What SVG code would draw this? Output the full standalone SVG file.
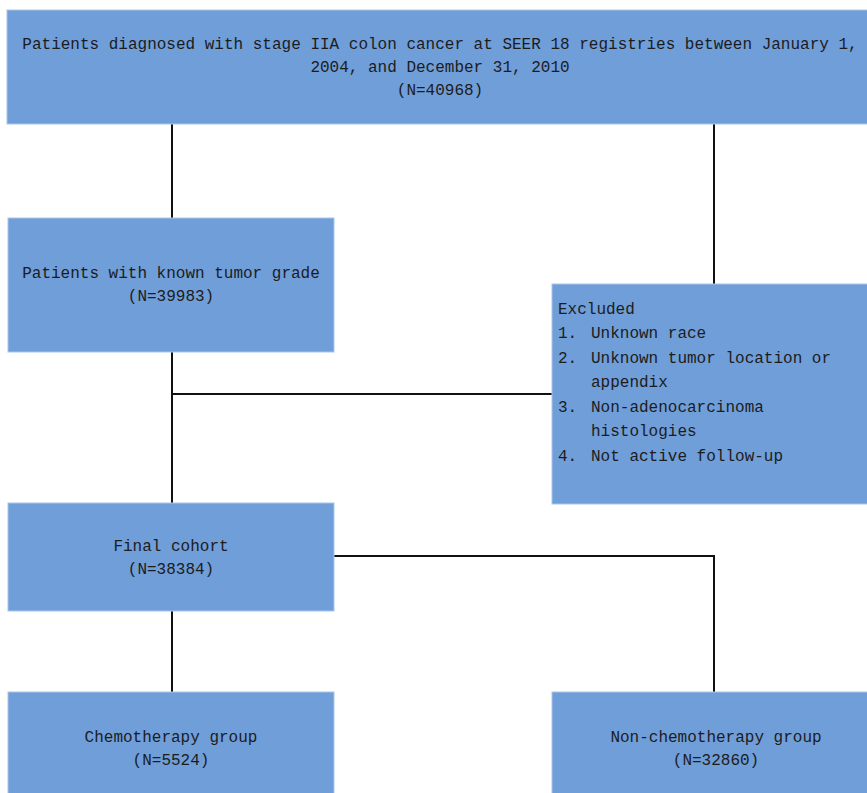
<svg xmlns="http://www.w3.org/2000/svg" width="867" height="793" viewBox="0 0 867 793">
<style>
.box{fill:#709ed9;stroke:#a9c5ec;stroke-width:1}
.t{font-family:"Liberation Mono","DejaVu Sans Mono",monospace;font-size:16px;fill:#1c1c1c}
.c{text-anchor:middle}
.ln{stroke:#111;stroke-width:2;fill:none}
</style>
<rect width="867" height="793" fill="#ffffff"/>
<g id="connectors">
<line class="ln" x1="172" y1="124" x2="172" y2="218"/>
<line class="ln" x1="714" y1="124" x2="714" y2="284"/>
<line class="ln" x1="172" y1="352" x2="172" y2="503"/>
<line class="ln" x1="172" y1="394" x2="552" y2="394"/>
<polyline class="ln" points="334,556 714,556 714,692"/>
<line class="ln" x1="172" y1="611" x2="172" y2="692"/>
</g>
<g id="n_all">
<rect class="box" x="7" y="10" width="865" height="114"/>
<text class="t c" x="440" y="49">Patients diagnosed with stage IIA colon cancer at SEER 18 registries between January 1,</text>
<text class="t c" x="440" y="72">2004, and December 31, 2010</text>
<text class="t c" x="440" y="95">(N=40968)</text>
</g>
<g id="n_grade">
<rect class="box" x="8" y="218" width="326" height="134"/>
<text class="t c" x="171" y="278">Patients with known tumor grade</text>
<text class="t c" x="171" y="301">(N=39983)</text>
</g>
<g id="n_excluded">
<rect class="box" x="552" y="284" width="320" height="220"/>
<text class="t" x="558" y="314">Excluded</text>
<text class="t" x="558" y="338">1.</text><text class="t" x="591" y="338">Unknown race</text>
<text class="t" x="558" y="363">2.</text><text class="t" x="591" y="363">Unknown tumor location or</text>
<text class="t" x="591" y="387">appendix</text>
<text class="t" x="558" y="412">3.</text><text class="t" x="591" y="412">Non-adenocarcinoma</text>
<text class="t" x="591" y="436">histologies</text>
<text class="t" x="558" y="461">4.</text><text class="t" x="591" y="461">Not active follow-up</text>
</g>
<g id="n_final">
<rect class="box" x="8" y="503" width="326" height="108"/>
<text class="t c" x="171" y="551">Final cohort</text>
<text class="t c" x="171" y="574">(N=38384)</text>
</g>
<g id="n_chemo">
<rect class="box" x="8" y="692" width="326" height="110"/>
<text class="t c" x="171" y="742">Chemotherapy group</text>
<text class="t c" x="171" y="765">(N=5524)</text>
</g>
<g id="n_nonchemo">
<rect class="box" x="552" y="692" width="320" height="110"/>
<text class="t c" x="716" y="742">Non-chemotherapy group</text>
<text class="t c" x="716" y="765">(N=32860)</text>
</g>
</svg>
